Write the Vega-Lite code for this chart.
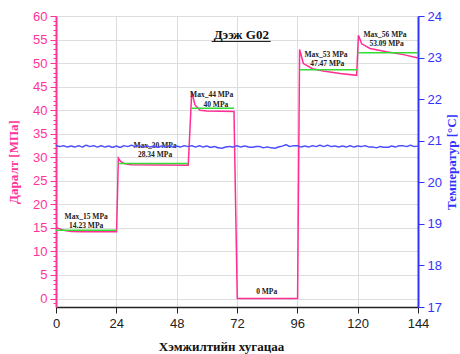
{
  "$schema": "https://vega.github.io/schema/vega-lite/v6.json",
  "width": 362,
  "height": 291,
  "autosize": "none",
  "padding": {"left": 56, "top": 16, "right": 42, "bottom": 47},
  "background": "white",
  "config": {"view": {"stroke": "#777777", "strokeWidth": 1}},
  "datasets": {
    "pressure": [
      {"h": 0, "p": 15.1}, {"h": 1, "p": 14.9}, {"h": 3, "p": 14.5}, {"h": 6, "p": 14.25}, {"h": 10, "p": 14.2}, {"h": 24.1, "p": 14.2},
      {"h": 24.8, "p": 29.8}, {"h": 25.7, "p": 29.1}, {"h": 27.4, "p": 28.6}, {"h": 30, "p": 28.4}, {"h": 52.6, "p": 28.3},
      {"h": 54.0, "p": 43.9}, {"h": 55.3, "p": 41.1}, {"h": 57.3, "p": 40.0}, {"h": 60, "p": 39.8}, {"h": 70.8, "p": 39.7},
      {"h": 72.1, "p": 0}, {"h": 96.1, "p": 0},
      {"h": 96.9, "p": 52.9}, {"h": 98.4, "p": 49.9}, {"h": 99.7, "p": 49.5}, {"h": 102, "p": 48.8}, {"h": 106.3, "p": 48.3}, {"h": 113, "p": 47.8}, {"h": 119.6, "p": 47.4},
      {"h": 120.3, "p": 55.9}, {"h": 121.6, "p": 54.1}, {"h": 124.9, "p": 53.1}, {"h": 131.5, "p": 52.4}, {"h": 138.2, "p": 51.8}, {"h": 144, "p": 51.1}
    ],
    "avg": [
      {"h1": 0, "h2": 24, "p": 14.5},
      {"h1": 24.8, "h2": 52.6, "p": 28.7},
      {"h1": 54, "h2": 70.8, "p": 40.4},
      {"h1": 97, "h2": 120, "p": 48.6},
      {"h1": 120.3, "h2": 144, "p": 52.2}
    ],
    "labels": [
      {"h": 12, "p": 17.4, "t": "Max_15 MPa"},
      {"h": 12, "p": 15.5, "t": "14.23 MPa"},
      {"h": 39.4, "p": 32.4, "t": "Max_30 MPa"},
      {"h": 39.4, "p": 30.5, "t": "28.34 MPa"},
      {"h": 61.9, "p": 43.2, "t": "Max_44 MPa"},
      {"h": 63.6, "p": 41.2, "t": "40 MPa"},
      {"h": 83.8, "p": 1.4, "t": "0 MPa"},
      {"h": 107.4, "p": 51.7, "t": "Max_53 MPa"},
      {"h": 107.9, "p": 49.8, "t": "47.47 MPa"},
      {"h": 130.9, "p": 55.9, "t": "Max_56 MPa"},
      {"h": 131.5, "p": 54.0, "t": "53.09 MPa"}
    ],
    "heading": [{"h": 73.7, "p": 55.9, "t": "Дээж G02"}],
    "underline": [{"h1": 61.9, "h2": 85.4, "p": 54.6}],
    "temp": [
      {"h": 0, "c": 20.89}, {"h": 1.5, "c": 20.86}, {"h": 3, "c": 20.88}, {"h": 4.5, "c": 20.85}, {"h": 6, "c": 20.87}, {"h": 7.5, "c": 20.85},
      {"h": 9, "c": 20.88}, {"h": 10.5, "c": 20.85}, {"h": 12, "c": 20.89}, {"h": 13.5, "c": 20.86}, {"h": 15, "c": 20.88}, {"h": 16.5, "c": 20.85},
      {"h": 18, "c": 20.88}, {"h": 19.5, "c": 20.85}, {"h": 21, "c": 20.87}, {"h": 22.5, "c": 20.84}, {"h": 24, "c": 20.87}, {"h": 25.5, "c": 20.84},
      {"h": 27, "c": 20.88}, {"h": 28.5, "c": 20.86}, {"h": 30, "c": 20.89}, {"h": 31.5, "c": 20.86}, {"h": 33, "c": 20.88}, {"h": 34.5, "c": 20.85},
      {"h": 36, "c": 20.88}, {"h": 37.5, "c": 20.85}, {"h": 39, "c": 20.87}, {"h": 40.5, "c": 20.84}, {"h": 42, "c": 20.87}, {"h": 43.5, "c": 20.85},
      {"h": 45, "c": 20.88}, {"h": 46.5, "c": 20.85}, {"h": 48, "c": 20.87}, {"h": 49.5, "c": 20.85}, {"h": 51, "c": 20.88}, {"h": 52.5, "c": 20.86},
      {"h": 54, "c": 20.88}, {"h": 55.5, "c": 20.85}, {"h": 57, "c": 20.88}, {"h": 58.5, "c": 20.85}, {"h": 60, "c": 20.87}, {"h": 61.5, "c": 20.84},
      {"h": 63, "c": 20.86}, {"h": 64.5, "c": 20.83}, {"h": 66, "c": 20.82}, {"h": 67.5, "c": 20.85}, {"h": 69, "c": 20.86}, {"h": 70.5, "c": 20.85},
      {"h": 72, "c": 20.88}, {"h": 73.5, "c": 20.85}, {"h": 75, "c": 20.87}, {"h": 76.5, "c": 20.85}, {"h": 78, "c": 20.84}, {"h": 79.5, "c": 20.86},
      {"h": 81, "c": 20.86}, {"h": 82.5, "c": 20.83}, {"h": 84, "c": 20.85}, {"h": 85.5, "c": 20.83}, {"h": 87, "c": 20.82}, {"h": 88.5, "c": 20.85},
      {"h": 90, "c": 20.87}, {"h": 91.5, "c": 20.9}, {"h": 93, "c": 20.86}, {"h": 94.5, "c": 20.88}, {"h": 96, "c": 20.88}, {"h": 97.5, "c": 20.85},
      {"h": 99, "c": 20.87}, {"h": 100.5, "c": 20.85}, {"h": 102, "c": 20.88}, {"h": 103.5, "c": 20.86}, {"h": 105, "c": 20.89}, {"h": 106.5, "c": 20.86},
      {"h": 108, "c": 20.89}, {"h": 109.5, "c": 20.86}, {"h": 111, "c": 20.87}, {"h": 112.5, "c": 20.85}, {"h": 114, "c": 20.87}, {"h": 115.5, "c": 20.85},
      {"h": 117, "c": 20.88}, {"h": 118.5, "c": 20.85}, {"h": 120, "c": 20.87}, {"h": 121.5, "c": 20.86}, {"h": 123, "c": 20.88}, {"h": 124.5, "c": 20.85},
      {"h": 126, "c": 20.85}, {"h": 127.5, "c": 20.83}, {"h": 129, "c": 20.86}, {"h": 130.5, "c": 20.84}, {"h": 132, "c": 20.84}, {"h": 133.5, "c": 20.87},
      {"h": 135, "c": 20.85}, {"h": 136.5, "c": 20.88}, {"h": 138, "c": 20.88}, {"h": 139.5, "c": 20.86}, {"h": 141, "c": 20.89}, {"h": 142.5, "c": 20.86},
      {"h": 144, "c": 20.87}
    ]
  },
  "layer": [
    {
      "encoding": {
        "x": {
          "type": "quantitative",
          "scale": {"domain": [0, 144], "nice": false, "zero": false},
          "axis": {
            "values": [0,6,12,18,24,30,36,42,48,54,60,66,72,78,84,90,96,102,108,114,120,126,132,138,144],
            "labelExpr": "datum.value % 24 === 0 ? datum.label : ''",
            "labelOverlap": false,
            "labelFlush": false,
            "tickSize": {"condition": {"test": "datum.value % 24 === 0", "value": 6}, "value": 3},
            "gridOpacity": {"condition": {"test": "datum.value % 24 === 0", "value": 1}, "value": 0},
            "gridColor": "#dddddd",
            "labelColor": "#222222",
            "tickColor": "#222222",
            "domainColor": "#222222",
            "domainWidth": 1.5,
            "labelFont": "Liberation Sans",
            "labelFontSize": 13,
            "labelPadding": 4,
            "title": "Хэмжилтийн хугацаа",
            "titleFont": "Liberation Serif",
            "titleFontWeight": "bold",
            "titleFontSize": 13,
            "titleColor": "#111111",
            "titleX": 165,
            "titleAlign": "center",
            "titleY": 39,
            "titleBaseline": "middle"
          }
        },
        "y": {
          "type": "quantitative",
          "scale": {"domain": [-1.8, 60], "nice": false, "zero": false},
          "axis": {
            "orient": "left",
            "values": [-1,0,1,2,3,4,5,6,7,8,9,10,11,12,13,14,15,16,17,18,19,20,21,22,23,24,25,26,27,28,29,30,31,32,33,34,35,36,37,38,39,40,41,42,43,44,45,46,47,48,49,50,51,52,53,54,55,56,57,58,59,60],
            "labelExpr": "datum.value % 5 === 0 ? datum.label : ''",
            "labelOverlap": false,
            "labelFlush": false,
            "tickSize": {"condition": {"test": "datum.value % 5 === 0", "value": 6}, "value": 3},
            "gridOpacity": {"condition": {"test": "datum.value % 5 === 0", "value": 1}, "value": 0},
            "gridColor": "#dddddd",
            "labelColor": "#ff3399",
            "tickColor": "#ff3399",
            "domainColor": "#ff3399",
            "domainWidth": 2,
            "tickWidth": 1,
            "labelFont": "Liberation Sans",
            "labelFontSize": 13,
            "labelPadding": 3,
            "title": "Даралт [МПа]",
            "titleFont": "Liberation Serif",
            "titleFontWeight": "bold",
            "titleFontSize": 13,
            "titleColor": "#ff3399",
            "titlePadding": 12
          }
        }
      },
      "layer": [
        {
          "data": {"name": "pressure"},
          "mark": {"type": "line", "color": "#ff2d95", "strokeWidth": 1.5},
          "encoding": {
            "x": {"field": "h", "type": "quantitative"},
            "y": {"field": "p", "type": "quantitative"}
          }
        },
        {
          "data": {"name": "avg"},
          "mark": {"type": "rule", "color": "#33dd33", "strokeWidth": 1.5},
          "encoding": {
            "x": {"field": "h1", "type": "quantitative"},
            "x2": {"field": "h2"},
            "y": {"field": "p", "type": "quantitative"}
          }
        },
        {
          "data": {"name": "labels"},
          "mark": {"type": "text", "font": "Liberation Serif", "fontWeight": "bold", "fontSize": 7.5, "color": "#222222", "baseline": "middle", "align": "center"},
          "encoding": {
            "x": {"field": "h", "type": "quantitative"},
            "y": {"field": "p", "type": "quantitative"},
            "text": {"field": "t"}
          }
        },
        {
          "data": {"name": "heading"},
          "mark": {"type": "text", "font": "Liberation Serif", "fontWeight": "bold", "fontSize": 13, "color": "#111111", "baseline": "middle", "align": "center"},
          "encoding": {
            "x": {"field": "h", "type": "quantitative"},
            "y": {"field": "p", "type": "quantitative"},
            "text": {"field": "t"}
          }
        },
        {
          "data": {"name": "underline"},
          "mark": {"type": "rule", "color": "#111111", "strokeWidth": 1},
          "encoding": {
            "x": {"field": "h1", "type": "quantitative"},
            "x2": {"field": "h2"},
            "y": {"field": "p", "type": "quantitative"}
          }
        }
      ]
    },
    {
      "data": {"name": "temp"},
      "mark": {"type": "line", "color": "#4d4dff", "strokeWidth": 1.5, "interpolate": "monotone"},
      "encoding": {
        "x": {"field": "h", "type": "quantitative"},
        "y": {
          "field": "c",
          "type": "quantitative",
          "scale": {"domain": [17, 24], "nice": false, "zero": false},
          "axis": {
            "orient": "right",
            "values": [17,17.5,18,18.5,19,19.5,20,20.5,21,21.5,22,22.5,23,23.5,24],
            "format": "d",
            "labelExpr": "datum.value % 1 === 0 ? datum.label : ''",
            "labelOverlap": false,
            "labelFlush": false,
            "grid": false,
            "tickSize": {"condition": {"test": "datum.value % 1 === 0", "value": 6}, "value": 3},
            "labelColor": "#3333ff",
            "tickColor": "#3333ff",
            "domainColor": "#3333ff",
            "domainWidth": 2,
            "labelFont": "Liberation Sans",
            "labelFontSize": 13,
            "labelPadding": 3,
            "title": "Температур [°C]",
            "titleFont": "Liberation Serif",
            "titleFontWeight": "bold",
            "titleFontSize": 13,
            "titleColor": "#3333ff",
            "titleAngle": 270,
            "titlePadding": 17
          }
        }
      }
    }
  ],
  "resolve": {"scale": {"y": "independent"}}
}
